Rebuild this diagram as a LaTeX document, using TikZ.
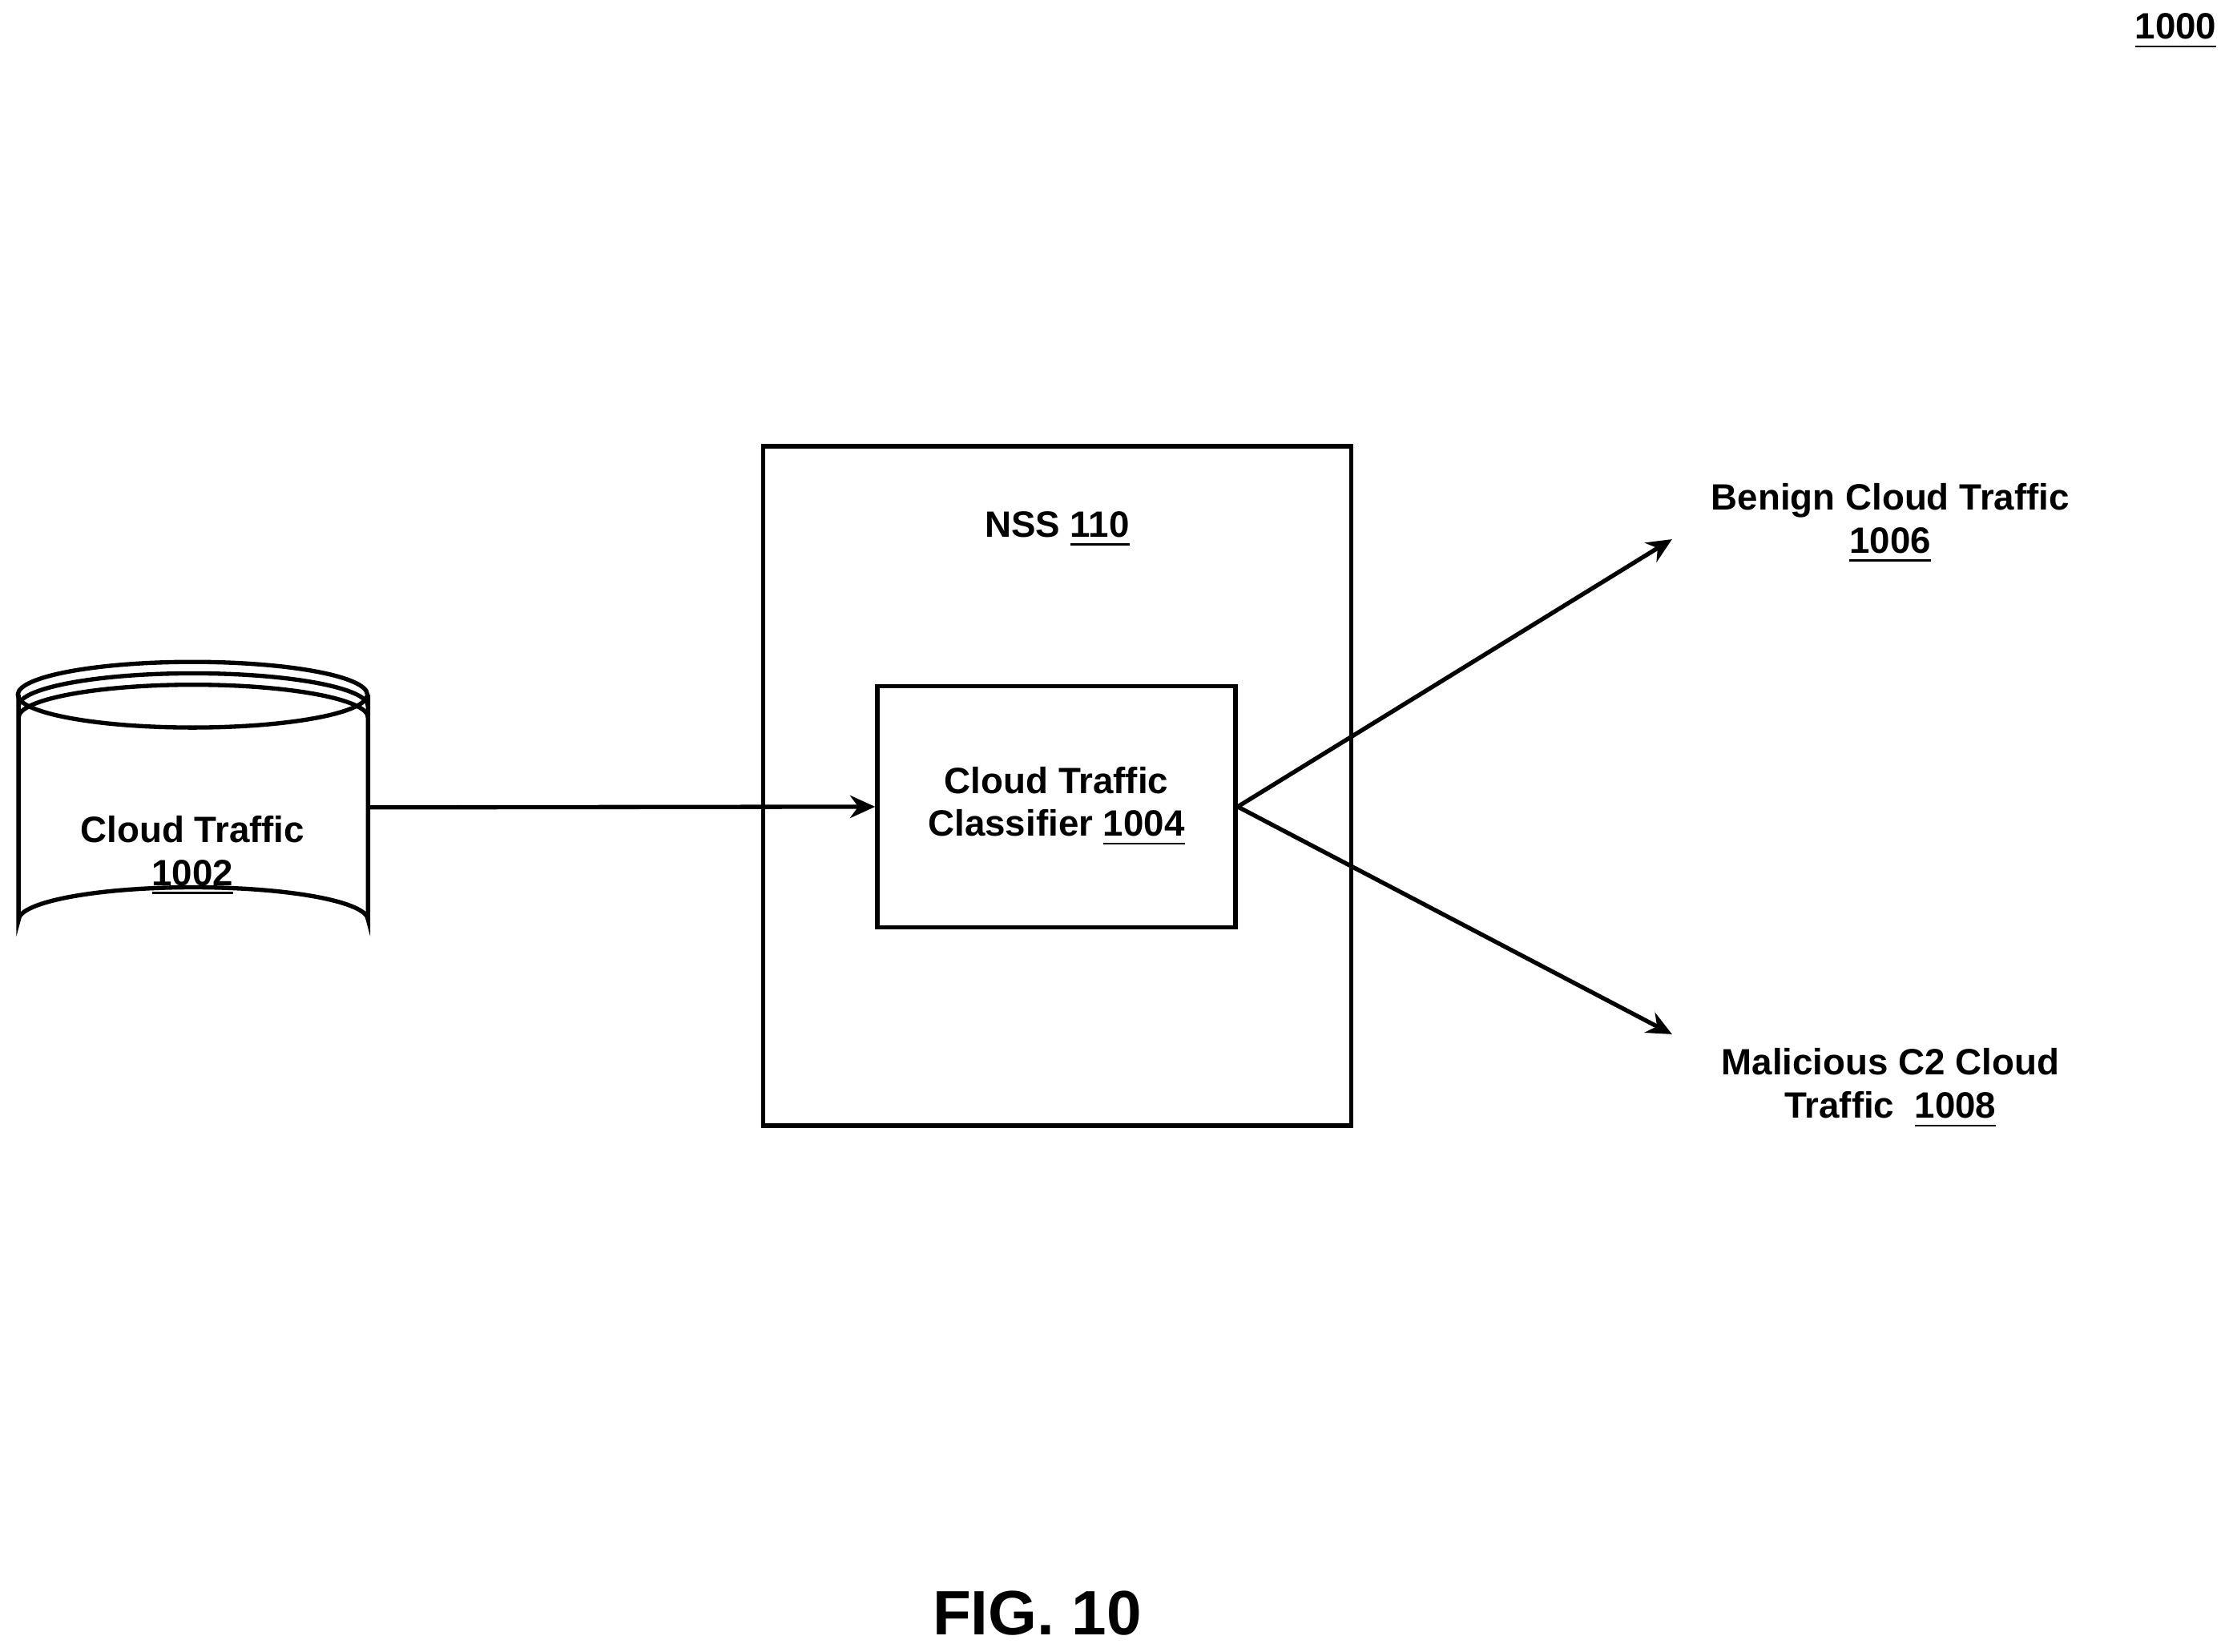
\documentclass[tikz,border=0pt]{standalone}
\usepackage{fontspec}
\setmainfont{Liberation Sans}
\usetikzlibrary{arrows.meta,positioning}
\tikzset{block/.style={draw, thick, rectangle, line width=0.85pt},
	lbl/.style={font=\bfseries\fontsize{7.3}{8.6}\selectfont, align=center},
	arrow/.style={draw,line width=0.85pt,-{Stealth[length=5pt,width=4.5pt]}}}
\begin{document}
\begin{tikzpicture}[x=0.01cm,y=-0.01cm]
		\useasboundingbox (0,0) rectangle (1568,1158);
		\node [lbl] (fignum) at (1525,22) {\underline{1000}};
		\node [block, minimum width=4.12cm, minimum height=4.76cm] (nss) at (741,551) {};
		\node [lbl] (nsslabel) at (741,371) {NSS \underline{110}};
		\node [block, lbl, minimum width=2.51cm, minimum height=1.69cm] (classifier) at (740.5,565.5) {Cloud Traffic\\Classifier \underline{1004}};
		% cylinder
		\draw [line width=0.85pt,fill=white] (13,487) -- (13,645) arc[start angle=180,end angle=360,x radius=122.5,y radius=23] -- (258,487);
		\draw [line width=0.85pt] (135,487) ellipse[x radius=122.5,y radius=23];
		\draw [line width=0.85pt] (13,495) arc[start angle=180,end angle=360,x radius=122.5,y radius=23];
		\draw [line width=0.85pt] (13,503) arc[start angle=180,end angle=360,x radius=122.5,y radius=23];
		\node [lbl] (traffic) at (135,600) {Cloud Traffic\\\underline{1002}};
		\coordinate (trafficout) at (258,566);
		\node [lbl] (benign) at (1325,367) {Benign Cloud Traffic\\\underline{1006}};
		\node [lbl] (malicious) at (1325,763) {Malicious C2 Cloud\\Traffic\ \ \underline{1008}};
		\coordinate (benignin) at (1172,378);
		\coordinate (maliciousin) at (1172,725);
		\node [font=\bfseries\fontsize{12.5}{14}\selectfont] (fig) at (727,1131) {FIG. 10};
		
		\draw [arrow] (trafficout)--(classifier.west);
		\draw [arrow] (classifier.east)--(benignin);
		\draw [arrow] (classifier.east)--(maliciousin);
	\end{tikzpicture}
\end{document}
